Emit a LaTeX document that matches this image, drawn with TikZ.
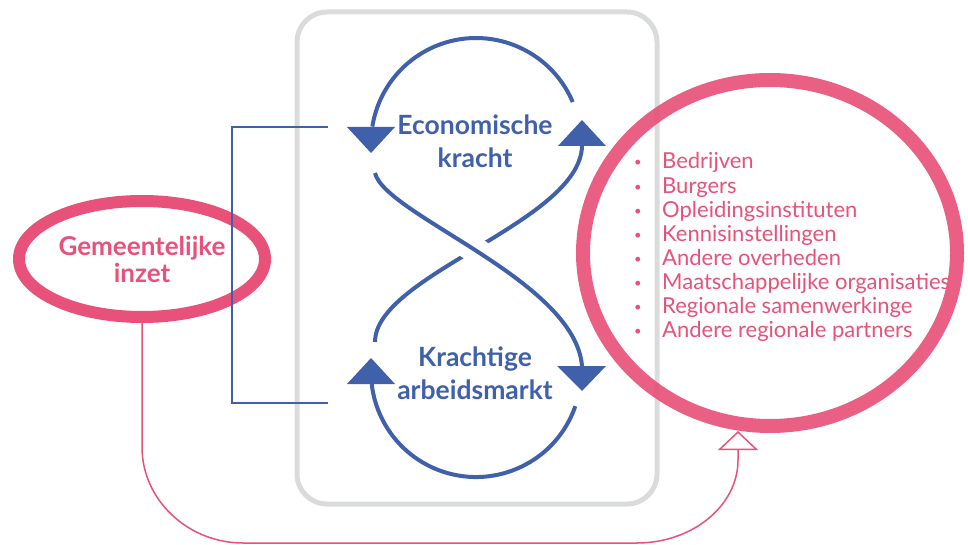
\documentclass[tikz,border=0pt]{standalone}
\usepackage{fontspec}
\setmainfont{Lato}
\usetikzlibrary{arrows.meta,shapes.geometric}
\definecolor{pinkc}{RGB}{232,81,122}
\definecolor{bluec}{RGB}{64,96,170}
\definecolor{grayc}{RGB}{218,220,219}
\begin{document}
\begin{tikzpicture}[x=1pt,y=-1pt,
  loopline/.style={bluec, line width=4pt},
  headfill/.style={fill=bluec, draw=none},
  ringstyle/.style={ellipse, draw=pinkc, inner sep=0pt},
  centertext/.style={text=bluec, font=\bfseries\fontsize{26.5}{33}\selectfont, align=center, inner sep=0pt},
  thinblue/.style={bluec, line width=1.5pt},
  thinpink/.style={pinkc, line width=1.5pt}]
\useasboundingbox (0,0) rectangle (968,545);
% grey frame
\draw[grayc, line width=5pt, rounded corners=30pt] (297,12) rectangle (657,504);
% upper loop arc
\draw[loopline] (572.7,102) arc[start angle=-23, end angle=-171, radius=105];
% lower loop arc
\draw[loopline] (575.3,406.2) arc[start angle=19, end angle=173.4, radius=105];
% strand B (under)
\draw[loopline] (582,146) .. controls (580,222) and (375,275) .. (375,342);
% gap at crossing
\begin{scope}
\clip (480,250) circle (22);
\draw[white, line width=26pt] (375,173) .. controls (385,215) and (575,280) .. (582,366);
\end{scope}
% strand A (over)
\draw[loopline] (375,173) .. controls (385,215) and (575,280) .. (582,366);
% arrowheads
\fill[headfill] (347,127) -- (395,127) -- (371,153) -- cycle;
\fill[headfill] (558,146) -- (606,146) -- (582,120) -- cycle;
\fill[headfill] (347,384) -- (395,384) -- (371,358) -- cycle;
\fill[headfill] (557,366) -- (606,366) -- (582,391) -- cycle;
% centre texts
\node[centertext] (econ) at (475,141) {Economische\\kracht};
\node[centertext] (arbeid) at (475,373) {Krachtige\\arbeidsmarkt};
% big ring
\node[ringstyle, line width=14pt, draw opacity=0.92, minimum width=374pt, minimum height=346pt] (partners) at (770,253) {};
\node[anchor=base west, inner sep=0pt, text=pinkc, font=\fontsize{22}{24.1}\selectfont] (list) at (634,169)
{\begin{tabular}[t]{@{}p{28pt}@{}l@{}}
{\fontsize{13}{13}\selectfont\raisebox{2pt}{•}} & Bedrijven\\
{\fontsize{13}{13}\selectfont\raisebox{2pt}{•}} & Burgers\\
{\fontsize{13}{13}\selectfont\raisebox{2pt}{•}} & Opleidingsinstituten\\
{\fontsize{13}{13}\selectfont\raisebox{2pt}{•}} & Kennisinstellingen\\
{\fontsize{13}{13}\selectfont\raisebox{2pt}{•}} & Andere overheden\\
{\fontsize{13}{13}\selectfont\raisebox{2pt}{•}} & Maatschappelijke organisaties\\
{\fontsize{13}{13}\selectfont\raisebox{2pt}{•}} & Regionale samenwerkinge\\
{\fontsize{13}{13}\selectfont\raisebox{2pt}{•}} & Andere regionale partners
\end{tabular}};
% small ellipse
\node[ringstyle, line width=12pt, minimum width=246pt, minimum height=116pt, text=pinkc, font=\bfseries\fontsize{26}{27}\selectfont, align=center] (gem) at (142,259) {Gemeentelijke\\inzet};
% blue bracket
\coordinate (b1) at (328,127);
\coordinate (b2) at (328,403);
\draw[thinblue] (b1) -- (232,127) -- (232,403) -- (b2);
% pink connector
\coordinate (tip) at (738,431);
\draw[thinpink, -{Triangle[open, length=19pt, width=40pt, line width=1.5pt]}] (gem.south) -- (142,447) .. controls (142,500) and (188,543) .. (243,543) -- (637,543) .. controls (692,543) and (738,506) .. (738,460) -- (tip);
\end{tikzpicture}
\end{document}
